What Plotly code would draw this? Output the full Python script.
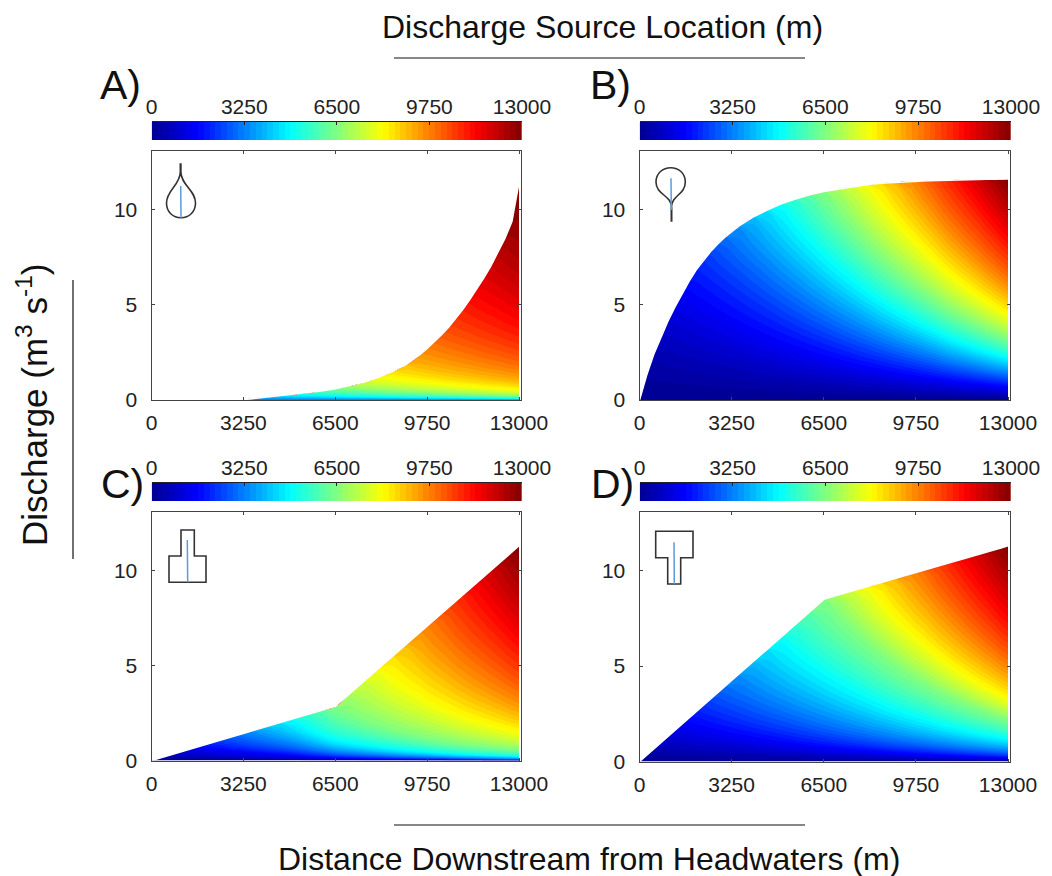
import plotly.graph_objects as go

W, H = 1052, 876
FONT = "Liberation Sans"
INK = "#222222"

tick_values = [0, 3250, 6500, 9750, 13000]
y_ticks = [0, 5, 10]
jet = [[0, "#00008f"], [0.125, "#0000ff"], [0.375, "#00ffff"], [0.625, "#ffff00"],
       [0.875, "#ff0000"], [1, "#800000"]]

# Distance downstream / source location grid (m)
grid = [0, 250, 500, 750, 1000, 1250, 1500, 1750, 2000, 2250, 2500, 2750, 3000,
        3500, 4000, 4500, 5000, 5500, 6000, 6500, 7000, 7500, 8000, 8500, 9000, 9500,
        9750, 10000, 10250, 10500, 10750, 11000, 11250, 11500, 11750, 12000, 12250, 12500, 12750, 13000]

# Total discharge along the channel (top edge of each filled area), m3/s
top_a = [0, 0, 0, 0, 0, 0, 0, 0, 0, 0, 0, 0, 0,
         .06, .14, .21, .29, .38, .48, .6, .75, .94, 1.18, 1.48, 1.87, 2.4,
         2.72, 3.05, 3.42, 3.82, 4.27, 4.75, 5.27, 5.82, 6.42, 7.05, 7.75, 8.5, 9.4, 11.45]
top_b = [0, 1.3, 2.4, 3.3, 4.15, 4.9, 5.6, 6.25, 6.85, 7.35, 7.8, 8.2, 8.55,
         9.15, 9.62, 10.0, 10.32, 10.58, 10.8, 10.97, 11.1, 11.22, 11.33, 11.4, 11.45, 11.49,
         11.505, 11.52, 11.535, 11.55, 11.565, 11.58, 11.59, 11.6, 11.605, 11.61, 11.62, 11.62, 11.63, 11.63]
top_c = [0, .11, .22, .33, .44, .55, .66, .77, .88, .99, 1.1, 1.21, 1.32,
         1.54, 1.75, 1.97, 2.19, 2.41, 2.63, 2.85, 3.5, 4.15, 4.8, 5.45, 6.1, 6.75,
         7.07, 7.4, 7.72, 8.05, 8.38, 8.7, 9.03, 9.35, 9.68, 10.0, 10.33, 10.65, 10.98, 11.3]
top_d = [0, .33, .65, .98, 1.31, 1.63, 1.96, 2.29, 2.62, 2.94, 3.27, 3.6, 3.92,
         4.58, 5.23, 5.88, 6.54, 7.19, 7.85, 8.5, 8.72, 8.93, 9.15, 9.36, 9.58, 9.79,
         9.9, 10.01, 10.115, 10.22, 10.33, 10.44, 10.55, 10.65, 10.76, 10.87, 10.97, 11.08, 11.19, 11.3]

# Percentage of headwater discharge still in the channel at each grid position
kept_a = [100, 95.9, 92.0, 88.2, 84.6, 81.2, 77.9, 74.7, 71.7, 68.7, 65.9, 63.2, 60.7,
          55.8, 51.3, 47.2, 43.5, 40.0, 36.8, 33.8, 31.1, 28.7, 26.4, 24.3, 22.3, 20.5,
          19.7, 18.9, 18.1, 17.4, 16.7, 16.0, 15.4, 14.7, 14.1, 13.5, 13.0, 12.4, 11.9, 11.4]
kept_b = [100, 95.4, 91.0, 86.8, 82.8, 79.0, 75.4, 71.9, 68.6, 65.4, 62.4, 59.5, 56.8,
          51.7, 47.0, 42.8, 38.9, 35.4, 32.2, 29.3, 26.7, 24.3, 22.1, 20.1, 18.3, 16.7,
          15.95, 15.2, 14.5, 13.8, 13.1, 12.5, 11.95, 11.4, 10.9, 10.4, 9.9, 9.45, 9.0, 8.6]
kept_c = [100, 93.1, 86.7, 80.7, 75.1, 70.0, 65.1, 60.7, 56.5, 52.6, 49.0, 45.6, 42.4,
          36.8, 31.9, 27.6, 23.5, 19.0, 15.35, 12.4, 10.8, 9.39, 8.2, 7.11, 6.25, 5.52,
          5.15, 4.83, 4.56, 4.29, 4.01, 3.78, 3.56, 3.37, 3.19, 3.01, 2.85, 2.69, 2.54, 2.41]
kept_d = [100, 94.9, 90.1, 85.5, 81.2, 77.1, 73.2, 69.4, 65.9, 62.6, 59.4, 56.4, 53.5,
          48.2, 43.5, 39.2, 35.3, 31.8, 28.7, 25.8, 23.3, 21.0, 18.9, 17.0, 15.3, 13.8,
          13.1, 12.5, 11.85, 11.2, 10.65, 10.1, 9.6, 9.1, 8.65, 8.2, 7.8, 7.4, 7.0, 6.7]

panels = [
    dict(label="A)", top=top_a, kept=kept_a, box=(151.5, 520.5, 151, 400), bar=(151.7, 522, 122, 140), lab=(98, 85)),
    dict(label="B)", top=top_b, kept=kept_b, box=(639.5, 1009.5, 151, 400), bar=(639.7, 1011, 122, 140), lab=(588, 85)),
    dict(label="C)", top=top_c, kept=kept_c, box=(151.5, 520.5, 511.5, 760.5), bar=(151.7, 522, 483, 501), lab=(99, 484)),
    dict(label="D)", top=top_d, kept=kept_d, box=(639.5, 1009.5, 511.5, 761.5), bar=(639.7, 1011, 483, 501), lab=(589, 484)),
]


def px(x):
    return x / W


def py(y):
    return 1 - y / H


def path(cmds):
    out = []
    for c in cmds:
        if isinstance(c, str):
            out.append(c)
        else:
            out.append(f"{px(c[0]):.5f},{py(c[1]):.5f}")
    return " ".join(out)


fig = go.Figure()
layout = {}
levels = 64
n = len(grid)

for k, p in enumerate(panels):
    top, kept = p["top"], p["kept"]
    # one row per source location: its cumulative discharge at each position downstream
    ys = [[top[i] if i < j else top[j] * kept[i] / kept[j] for i in range(n)] for j in range(n)]
    xs = [list(grid) for _ in grid]
    zs = [[s] * n for s in grid]
    xa, ya = f"x{2*k+1}", f"y{2*k+1}"
    xb, yb = f"x{2*k+2}", f"y{2*k+2}"
    hidden = dict(startline=False, endline=False, showgrid=False, showticklabels="none",
                  smoothing=0, minorgridcount=0, showline=False)
    fig.add_trace(go.Carpet(a=grid, b=grid, x=xs, y=ys, carpet=f"c{k}", xaxis=xa, yaxis=ya,
                            aaxis=hidden, baxis=hidden))
    fig.add_trace(go.Contourcarpet(a=grid, b=grid, z=zs, carpet=f"c{k}", xaxis=xa, yaxis=ya,
                                   autocontour=False, zmin=0, zmax=13000, colorscale=jet, showscale=False,
                                   contours=dict(start=0, end=13000, size=13000 / levels,
                                                 coloring="fill", showlines=False),
                                   line=dict(width=0)))
    # white rim along the total-discharge curve
    fig.add_trace(go.Scatter(x=grid, y=top, mode="lines", line=dict(color="white", width=1.6),
                             xaxis=xa, yaxis=ya, hoverinfo="skip"))
    # colour bar strip
    edges = [13000 * i / levels for i in range(levels + 1)]
    mids = [13000 * (i + .5) / levels for i in range(levels)]
    fig.add_trace(go.Heatmap(x=edges, y=[0, 1], z=[mids], colorscale=jet, zmin=0, zmax=13000,
                             showscale=False, xaxis=xb, yaxis=yb, hoverinfo="skip"))

    x0, x1, y0, y1 = p["box"]
    scale = 13000 / (x1 - x0 - 1.5)
    common = dict(tickfont=dict(family=FONT, size=21, color=INK), showgrid=False, zeroline=False,
                  showline=True, linecolor="#444444", linewidth=1, mirror="ticks", ticks="inside",
                  ticklen=3, tickcolor="#444444", tickwidth=1)
    layout[f"xaxis{2*k+1}"] = dict(domain=[px(x0), px(x1)], range=[0, (x1 - x0) * scale], anchor=ya,
                                   tickmode="array", tickvals=tick_values, ticktext=[str(t) for t in tick_values],
                                   layer="above traces", ticklabelstandoff=4, **common)
    layout[f"yaxis{2*k+1}"] = dict(domain=[py(y1), py(y0)], range=[0, 13.1], anchor=xa,
                                   tickmode="array", tickvals=y_ticks, ticktext=[str(t) for t in y_ticks],
                                   layer="above traces", ticklabelstandoff=9, **common)
    bx0, bx1, by0, by1 = p["bar"]
    layout[f"xaxis{2*k+2}"] = dict(domain=[px(bx0), px(bx1)], range=[0, 13000], anchor=yb, side="top",
                                   tickmode="array", tickvals=tick_values, ticktext=[str(t) for t in tick_values],
                                   tickfont=dict(family=FONT, size=21, color=INK), showgrid=False, zeroline=False,
                                   showline=True, linecolor="#222222", linewidth=1, ticks="inside", ticklen=3,
                                   tickcolor="#222222", layer="above traces", mirror=False, ticklabelstandoff=-1)
    layout[f"yaxis{2*k+2}"] = dict(domain=[py(by1), py(by0)], range=[0, 1], anchor=xb, showticklabels=False,
                                   ticks="", showgrid=False, zeroline=False, showline=False)

ann = []
for p in panels:
    ann.append(dict(text=p["label"], x=px(p["lab"][0]), y=py(p["lab"][1]), xref="paper", yref="paper",
                    xanchor="left", yanchor="middle", showarrow=False, font=dict(family=FONT, size=41, color="#111111")))
titles = [("Discharge Source Location (m)", 602, 27, 0, 32),
          ("Distance Downstream from Headwaters (m)", 589, 859, 0, 32),
          ("Discharge (m<sup>3</sup> s<sup>-1</sup>)", 32, 405, -90, 35)]
for t, x, y, a, s in titles:
    ann.append(dict(text=t, x=px(x), y=py(y), xref="paper", yref="paper", xanchor="center", yanchor="middle",
                    textangle=a, showarrow=False, font=dict(family=FONT, size=s, color="#111111")))


def seg(x0, y0, x1, y1, color="#111111", w=1.2):
    return dict(type="line", xref="paper", yref="paper", x0=px(x0), y0=py(y0), x1=px(x1), y1=py(y1),
                line=dict(color=color, width=w))


def curve(cmds, color="#333333", w=1.6):
    return dict(type="path", xref="paper", yref="paper", path=path(cmds), line=dict(color=color, width=w),
                fillcolor="rgba(0,0,0,0)", layer="above")


BLUE = "#5b9bdc"
shapes = [seg(394, 58, 805, 58), seg(394, 825, 805, 825), seg(73, 280, 73, 559)]
shapes += [
    curve(["M", (180.3, 163.3), "L", (180.3, 172), "C", (180.3, 185), (166.5, 190), (166.5, 203),
           "C", (166.5, 212), (173, 217.7), (181, 217.7), "C", (189, 217.7), (195.5, 212), (195.5, 203),
           "C", (195.5, 190), (180.9, 185), (180.9, 172), "L", (180.9, 163.3)]),
    seg(180.7, 186, 181, 217.7, BLUE, 1.5),
    curve(["M", (671.7, 221.7), "L", (671.7, 208), "C", (671.7, 195), (656, 195), (656, 182),
           "C", (656, 173), (663, 167.7), (670.7, 167.7), "C", (678.5, 167.7), (685.3, 173), (685.3, 182),
           "C", (685.3, 195), (671.3, 195), (671.3, 208), "L", (671.3, 221.7)]),
    seg(671, 178.3, 671.3, 210, BLUE, 1.5),
    curve(["M", (181, 530), "L", (194.3, 530), "L", (194.3, 556), "L", (206, 556), "L", (206, 582.3),
           "L", (169, 582.3), "L", (169, 556), "L", (181, 556), "Z"]),
    seg(187.3, 540, 187.7, 582.3, BLUE, 1.5),
    curve(["M", (655.7, 531.3), "L", (693, 531.3), "L", (693, 557.7), "L", (680.7, 557.7), "L", (680.7, 584),
           "L", (667.7, 584), "L", (667.7, 557.7), "L", (655.7, 557.7), "Z"]),
    seg(674, 542.3, 674.3, 584, BLUE, 1.5),
]

fig.update_layout(width=W, height=H, margin=dict(l=0, r=0, t=0, b=0, autoexpand=False), paper_bgcolor="white",
                  plot_bgcolor="white", showlegend=False, annotations=ann, shapes=shapes, **layout)
fig.write_html("out.html", config={"displayModeBar": False},
               post_script="document.body.style.margin='0';document.body.style.overflow='hidden';")
